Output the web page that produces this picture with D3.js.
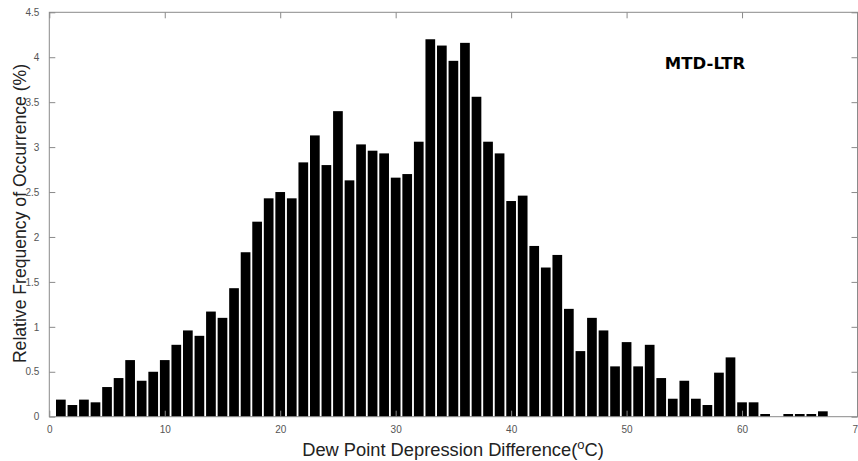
<!DOCTYPE html>
<html>
<head>
<meta charset="utf-8">
<script src="https://cdn.jsdelivr.net/npm/d3@7"></script>
<style>
  html, body { margin: 0; padding: 0; background: #fff; overflow: hidden; }
  svg { display: block; font-family: "Liberation Sans", Arial, Helvetica, sans-serif; }
</style>
</head>
<body>
<svg id="chart" width="858" height="461"></svg>
<script>
// Dew point depression difference bins (°C) and relative frequency (%)
const bins = d3.range(1, 68);
const freq = [
  0.19, 0.13, 0.19, 0.16, 0.33, 0.43, 0.63, 0.40, 0.50, 0.63,
  0.80, 0.96, 0.90, 1.17, 1.10, 1.43, 1.83, 2.17, 2.43, 2.50,
  2.43, 2.83, 3.13, 2.80, 3.40, 2.63, 3.03, 2.96, 2.93, 2.66,
  2.70, 3.06, 4.20, 4.13, 3.96, 4.16, 3.56, 3.06, 2.93, 2.40,
  2.46, 1.90, 1.66, 1.80, 1.20, 0.73, 1.10, 0.96, 0.56, 0.83,
  0.56, 0.80, 0.43, 0.20, 0.40, 0.20, 0.13, 0.49, 0.66, 0.16,
  0.16, 0.03, 0.00, 0.03, 0.03, 0.03, 0.06
];
const xTicks = [0, 10, 20, 30, 40, 50, 60, 70];
const yTicks = [0, 0.5, 1, 1.5, 2, 2.5, 3, 3.5, 4, 4.5];
const panelLabel = "MTD-LTR";

const svg = d3.select("#chart");
const m = { left: 49.3, right: 857.5, top: 12.3, bottom: 416.7 };

const x = d3.scaleLinear().domain([0, 70]).range([m.left, m.right]);
const y = d3.scaleLinear().domain([0, 4.5]).range([m.bottom, m.top]);
const barW = 0.84;

// bars
svg.append("g")
  .selectAll("rect")
  .data(bins.map((b, i) => ({ b, v: freq[i] })))
  .join("rect")
  .attr("x", d => x(d.b - barW / 2))
  .attr("width", d => x(barW) - x(0))
  .attr("y", d => y(d.v))
  .attr("height", d => y(0) - y(d.v))
  .attr("fill", "#000");

const axisColor = "#8a8a8a";
const tickColor = "#555";
const tl = 6;

function styleAxis(g) {
  g.select(".domain").remove();
  g.selectAll(".tick line").attr("stroke", axisColor).attr("stroke-width", 1);
  g.selectAll(".tick text").attr("fill", tickColor).style("font-size", "10px");
}

// bottom axis (ticks inward); the last label runs past the frame edge
svg.append("g")
  .attr("transform", `translate(0,${m.bottom})`)
  .call(d3.axisBottom(x).tickValues(xTicks).tickSizeInner(-tl).tickSizeOuter(0).tickPadding(9).tickFormat(d3.format("d")))
  .call(styleAxis);

// top axis ticks
svg.append("g")
  .attr("transform", `translate(0,${m.top})`)
  .call(d3.axisTop(x).tickValues(xTicks).tickSizeInner(-tl).tickSizeOuter(0).tickFormat(""))
  .call(styleAxis);

// left axis
svg.append("g")
  .attr("transform", `translate(${m.left},0)`)
  .call(d3.axisLeft(y).tickValues(yTicks).tickSizeInner(-tl).tickSizeOuter(0).tickPadding(10).tickFormat(d3.format("")))
  .call(styleAxis);

// right axis ticks
svg.append("g")
  .attr("transform", `translate(${m.right},0)`)
  .call(d3.axisRight(y).tickValues(yTicks).tickSizeInner(-tl).tickSizeOuter(0).tickFormat(""))
  .call(styleAxis);

// frame
svg.append("rect")
  .attr("x", m.left).attr("y", m.top)
  .attr("width", m.right - m.left).attr("height", m.bottom - m.top)
  .attr("fill", "none").attr("stroke", axisColor).attr("stroke-width", 1);

// axis titles
const xt = svg.append("text")
  .attr("x", 453).attr("y", 456)
  .attr("text-anchor", "middle")
  .attr("fill", "#222")
  .style("font-size", "18.3px");
xt.append("tspan").text("Dew Point Depression Difference(");
xt.append("tspan").attr("dy", -7).style("font-size", "13px").text("o");
xt.append("tspan").attr("dy", 7).text("C)");

svg.append("text")
  .attr("transform", `translate(26,${(58 + 369) / 2}) rotate(-90)`)
  .attr("text-anchor", "middle")
  .attr("fill", "#222")
  .style("font-size", "17.6px")
  .text("Relative Frequency of Occurrence (%)");

// panel label
svg.append("text")
  .attr("x", 705).attr("y", 69)
  .attr("text-anchor", "middle")
  .attr("fill", "#000")
  .style("font-family", "'DejaVu Sans', sans-serif")
  .style("font-size", "16.5px")
  .style("font-weight", "bold")
  .text(panelLabel);
</script>
</body>
</html>
